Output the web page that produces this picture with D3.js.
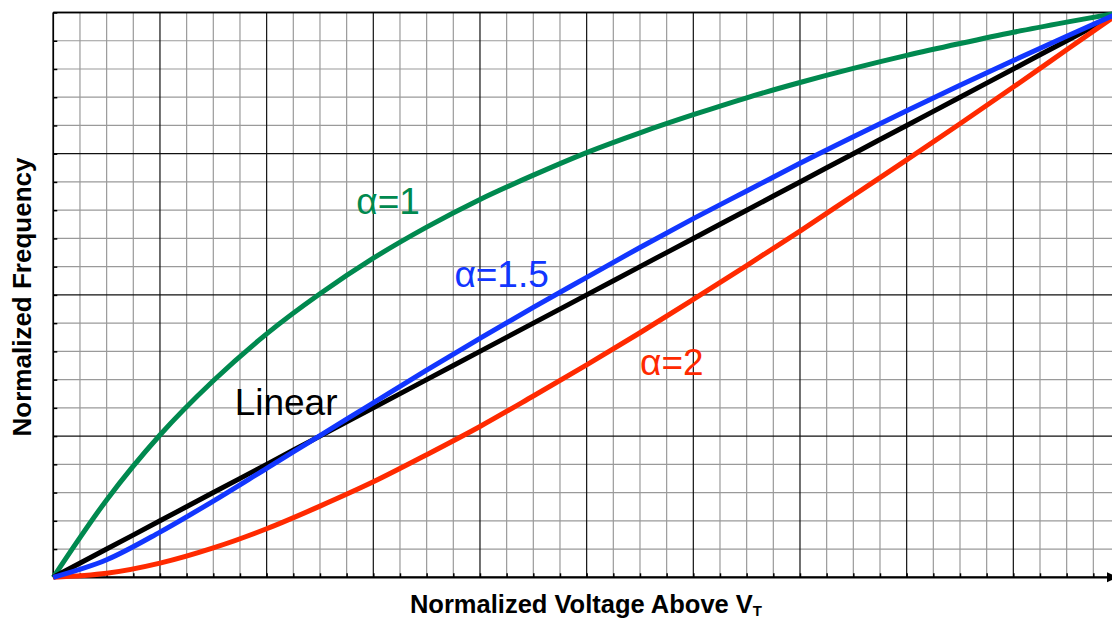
<!DOCTYPE html>
<html>
<head>
<meta charset="utf-8">
<script src="https://cdn.jsdelivr.net/npm/d3@7"></script>
<style>
  html, body { margin: 0; padding: 0; background: #fff; }
  svg { display: block; }
  text { font-family: "Liberation Sans", Arial, Helvetica, sans-serif; }
</style>
</head>
<body>
<svg id="chart" width="1112" height="621"></svg>
<script>
// Normalized voltage above threshold (x) and normalized frequency for each curve
const voltage = [0, 0.05, 0.1, 0.15, 0.2, 0.25, 0.3, 0.35, 0.4, 0.45, 0.5,
                 0.55, 0.6, 0.65, 0.7, 0.75, 0.8, 0.85, 0.9, 0.95, 1];
const freqLinear = [0, 0.05, 0.1, 0.15, 0.2, 0.25, 0.3, 0.35, 0.4, 0.45, 0.5,
                    0.55, 0.6, 0.65, 0.7, 0.75, 0.8, 0.85, 0.9, 0.95, 1];
const freqAlpha1 = [0, 0.137, 0.252, 0.348, 0.431, 0.502, 0.565, 0.620, 0.669, 0.712, 0.752,
                    0.787, 0.819, 0.849, 0.876, 0.901, 0.924, 0.945, 0.965, 0.983, 1];
const freqAlpha15 = [0, 0.031, 0.080, 0.135, 0.193, 0.251, 0.309, 0.367, 0.423, 0.478, 0.531,
                     0.584, 0.635, 0.684, 0.733, 0.780, 0.826, 0.871, 0.915, 0.958, 1];
const freqAlpha2 = [0, 0.007, 0.025, 0.052, 0.086, 0.126, 0.169, 0.217, 0.267, 0.321, 0.376,
                    0.433, 0.492, 0.552, 0.613, 0.676, 0.739, 0.803, 0.868, 0.934, 1];

const seriesNames = ["α=1", "Linear", "α=2", "α=1.5"];
const seriesColors = ["#00894f", "#000000", "#ff2a00", "#1236ff"];
const seriesValues = [freqAlpha1, freqLinear, freqAlpha2, freqAlpha15];
// label anchor in data units: [voltage, frequency]
const labelPos = [[0.284, 0.643], [0.17, 0.288], [0.550, 0.359], [0.376, 0.514]];

const xTitle = "Normalized Voltage Above V";
const xTitleSub = "T";
const yTitle = "Normalized Frequency";

const svg = d3.select("#chart");
const plotLeft = 53.3, plotRight = 1120, plotTop = 12.5, plotBottom = 577.3;

const x = d3.scaleLinear().domain([0, 1]).range([plotLeft, plotRight]);
const y = d3.scaleLinear().domain([0, 1]).range([plotBottom, plotTop]);

// grid: minor every 0.025 in x / 0.05 in y, major every 0.1 in x / 0.25 in y
const xMinor = d3.range(0, 41).map(i => i * 0.025);
const yMinor = d3.range(0, 21).map(i => i * 0.05);
const isMajorX = v => Math.abs(v * 10 - Math.round(v * 10)) < 1e-6;
const isMajorY = v => Math.abs(v * 4 - Math.round(v * 4)) < 1e-6;

const grid = svg.append("g");
grid.append("g").selectAll("line").data(xMinor.filter(v => !isMajorX(v))).join("line")
  .attr("x1", d => x(d)).attr("x2", d => x(d)).attr("y1", plotTop).attr("y2", plotBottom)
  .attr("stroke", "#9a9a9a").attr("stroke-width", 1.2);
grid.append("g").selectAll("line").data(yMinor.filter(v => !isMajorY(v))).join("line")
  .attr("y1", d => y(d)).attr("y2", d => y(d)).attr("x1", plotLeft).attr("x2", 1112)
  .attr("stroke", "#9a9a9a").attr("stroke-width", 1.2);
grid.append("g").selectAll("line").data(xMinor.filter(isMajorX)).join("line")
  .attr("x1", d => x(d)).attr("x2", d => x(d)).attr("y1", plotTop).attr("y2", plotBottom)
  .attr("stroke", "#111").attr("stroke-width", 1.2);
grid.append("g").selectAll("line").data(yMinor.filter(isMajorY)).join("line")
  .attr("y1", d => y(d)).attr("y2", d => y(d)).attr("x1", plotLeft).attr("x2", 1112)
  .attr("stroke", "#111").attr("stroke-width", 1.3);

// axes with short inward ticks
svg.append("g").attr("transform", `translate(0,${plotBottom})`)
  .call(d3.axisBottom(x).tickValues(xMinor).tickSize(-4).tickFormat(""))
  .call(g => g.select(".domain").remove())
  .call(g => g.selectAll("line").attr("stroke", "#000").attr("stroke-width", 1.5));
svg.append("g").attr("transform", `translate(${plotLeft},0)`)
  .call(d3.axisLeft(y).tickValues(yMinor).tickSize(-4).tickFormat(""))
  .call(g => g.select(".domain").remove())
  .call(g => g.selectAll("line").attr("stroke", "#000").attr("stroke-width", 1.5));

svg.append("line").attr("x1", plotLeft).attr("x2", 1112).attr("y1", plotBottom).attr("y2", plotBottom)
  .attr("stroke", "#000").attr("stroke-width", 2.2);
svg.append("line").attr("x1", plotLeft).attr("x2", plotLeft).attr("y1", plotTop).attr("y2", plotBottom)
  .attr("stroke", "#000").attr("stroke-width", 1.6);
svg.append("line").attr("x1", plotLeft).attr("x2", 1112).attr("y1", plotTop).attr("y2", plotTop)
  .attr("stroke", "#000").attr("stroke-width", 1.6);
// arrowhead at the end of the voltage axis
svg.append("path")
  .attr("d", `M1107,${plotBottom - 5} L1118,${plotBottom} L1107,${plotBottom + 5} Z`)
  .attr("fill", "#000");

// curves
const line = d3.line()
  .x((d, i) => x(voltage[i]))
  .y(d => y(d))
  .curve(d3.curveMonotoneX);

svg.append("g").selectAll("path").data(seriesValues).join("path")
  .attr("d", d => line(d))
  .attr("fill", "none")
  .attr("stroke", (d, i) => seriesColors[i])
  .attr("stroke-width", 5);

// curve labels
svg.append("g").selectAll("text").data(seriesNames).join("text")
  .attr("x", (d, i) => x(labelPos[i][0]))
  .attr("y", (d, i) => y(labelPos[i][1]))
  .attr("fill", (d, i) => seriesColors[i])
  .attr("font-size", 37)
  .text(d => d);

// axis titles
const xt = svg.append("text")
  .attr("x", 586).attr("y", 613)
  .attr("text-anchor", "middle")
  .attr("font-size", 25.5).attr("font-weight", "bold");
xt.append("tspan").text(xTitle);
xt.append("tspan").attr("font-size", 15).attr("dy", 3).text(xTitleSub);

svg.append("text")
  .attr("transform", "translate(31,297) rotate(-90)")
  .attr("text-anchor", "middle")
  .attr("font-size", 26).attr("font-weight", "bold")
  .text(yTitle);
</script>
</body>
</html>
